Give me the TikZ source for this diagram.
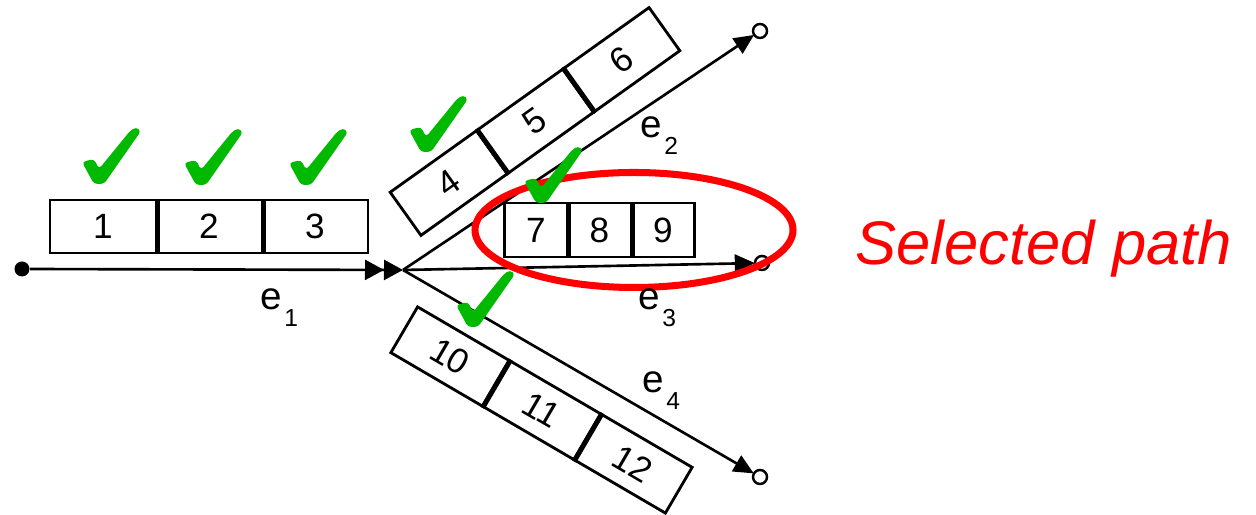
\documentclass[tikz,border=0pt]{standalone}
\usepackage{fontspec}
\setmainfont{Liberation Sans}
\usepackage{tikz}
\usetikzlibrary{arrows.meta,shapes.geometric}
\usepackage{xcolor}
\definecolor{tickgreen}{RGB}{0,185,0}
\newcommand\esub[1]{e\hspace{0.6pt}\raisebox{-4.8pt}{\fontsize{7}{8}\selectfont #1}}

\begin{document}
\begin{tikzpicture}[
  cell/.style={rectangle, draw=black, fill=white, line width=0.8pt, minimum width=1.06cm, minimum height=0.53cm, inner sep=0pt, font=\fontsize{10}{11}\selectfont},
  smallcell/.style={cell, minimum width=0.637cm, minimum height=0.54cm},
  divider/.style={line width=1.2pt},
  arr/.style={-{Triangle[length=0.2cm, width=0.18cm]}, line width=0.75pt, shorten >=-0.3pt},
  endpt/.style={circle, draw=black, line width=0.7pt, fill=white, inner sep=0pt, minimum size=0.14cm},
  elab/.style={inner sep=0pt, anchor=base west, font=\fontsize{11}{12}\selectfont},
  sel/.style={ellipse, draw=red, line width=2pt, minimum width=3.18cm, minimum height=1.15cm},
  tick/.pic={\fill[tickgreen, rounded corners=1pt] (-0.29,-0.06) -- (-0.17,-0.03) -- (-0.12,-0.13) -- (0.19,0.25) -- (0.25,0.29) -- (0.30,0.25) -- (-0.07,-0.28) -- (-0.17,-0.28) -- cycle;}]
\useasboundingbox (0,0) rectangle (12.56,5.15);
\node[circle, fill=black, inner sep=0pt, minimum size=0.15cm] (s) at (0.22,2.46) {};
\coordinate (j) at (4.03,2.45);
\node[endpt] (o2) at (7.60,4.84) {};
\node[endpt] (o3) at (7.62,2.52) {};
\node[endpt] (o4) at (7.60,0.38) {};
\draw[-{Triangle[length=0.19cm, width=0.2cm]Triangle[length=0.19cm, width=0.2cm]}, line width=0.75pt] (s) -- (j);
\foreach \k in {2,3,4} \draw[arr] (j) -- (o\k);
\foreach \n/\x in {1/1.03,2/2.09,3/3.15} \node[cell] (b\n) at (\x,2.885) {\n};
\begin{scope}[shift={(5.35,3.935)}, rotate=35.5, transform shape]
  \foreach \n/\x in {4/-1.06,5/0,6/1.06} \node[cell] (b\n) at (\x,0) {\n};
\end{scope}
\foreach \n/\x in {7/5.36,8/5.995,9/6.63} \node[smallcell] (b\n) at (\x,2.85) {\n};
\begin{scope}[shift={(5.415,1.05)}, rotate=-30.3, transform shape]
  \foreach \n/\x in {10/-1.06,11/0,12/1.06} \node[cell] (b\n) at (\x,0) {\n};
\end{scope}
\foreach \i in {1,2,4,5,7,8,10,11} \draw[divider] (b\i.north east) -- (b\i.south east);
\node[sel] (ring) at (6.34,2.85) {};
\foreach \p in {(1.11,3.59),(2.13,3.58),(3.18,3.58),(4.38,3.91),(5.53,3.40),(4.85,2.16)} \pic at \p {tick};
\node[elab] (l1) at (2.60,2.05) {\esub{1}};
\node[elab] (l2) at (6.40,3.77) {\esub{2}};
\node[elab] (l3) at (6.38,2.05) {\esub{3}};
\node[elab] (l4) at (6.42,1.22) {\esub{4}};
\node[anchor=base west, inner sep=0pt, text=red, font=\fontsize{17.5}{20}\selectfont\itshape] (title) at (8.55,2.50) {Selected path};
\end{tikzpicture}
\end{document}
